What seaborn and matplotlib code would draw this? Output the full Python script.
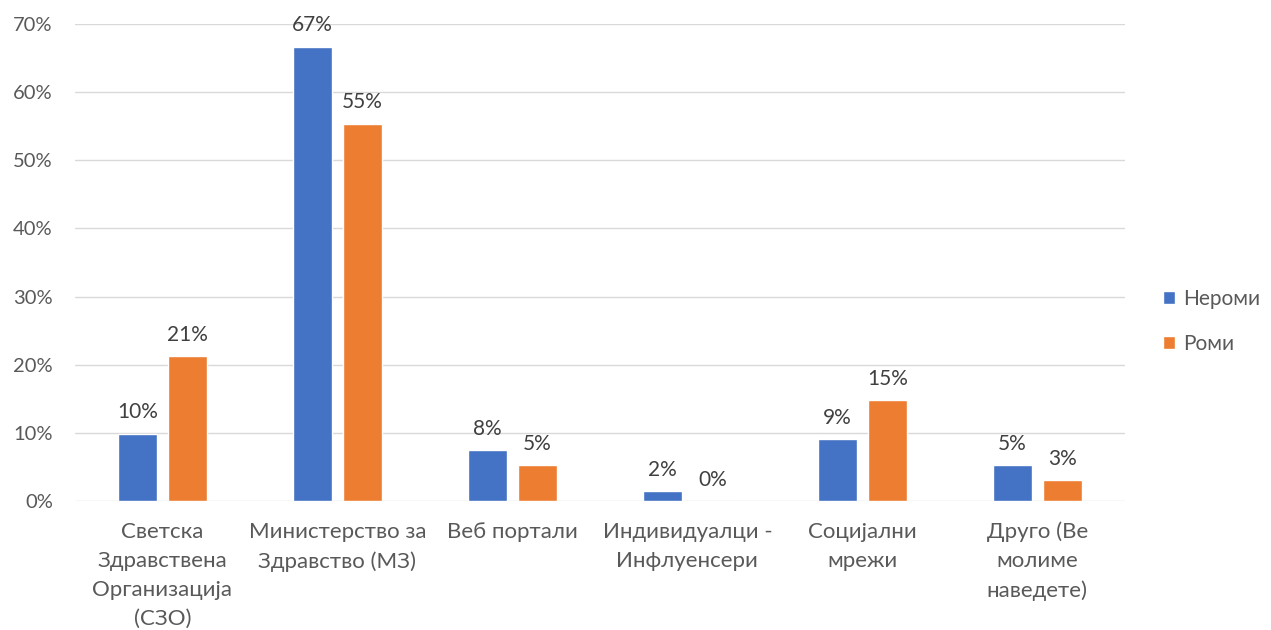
import numpy as np
import pandas as pd
import matplotlib
matplotlib.use('Agg')
import matplotlib.pyplot as plt
import seaborn as sns
from matplotlib.ticker import PercentFormatter
from matplotlib.patches import Patch

categories = ['Светска\nЗдравствена\nОрганизација\n(СЗО)', 'Министерство за\nЗдравство (МЗ)',
              'Веб портали', 'Индивидуалци -\nИнфлуенсери', 'Социјални\nмрежи',
              'Друго (Ве\nмолиме\nнаведете)']
neromi = [9.9, 66.7, 7.5, 1.5, 9.1, 5.3]
romi = [21.3, 55.4, 5.3, 0.0, 14.8, 3.1]
series = ['Нероми', 'Роми']
colors = ['#4472C4', '#ED7D31']

df = pd.DataFrame({
    'cat': categories * 2,
    'val': neromi + romi,
    'grp': [series[0]] * len(categories) + [series[1]] * len(categories),
})

sns.set_style('white')
plt.rcParams['font.family'] = ['Lato', 'DejaVu Sans']

fig = plt.figure(figsize=(12.71, 6.3), dpi=100)
ax = fig.add_axes([0.059, 0.2048, 0.826, 0.757])

sns.barplot(data=df, x='cat', y='val', hue='grp', palette=colors, ax=ax,
            width=0.571, gap=0.22, legend=False, saturation=1)

ax.set_ylim(0, 70)
ax.set_xlim(-0.5, 5.5)
ax.yaxis.set_major_formatter(PercentFormatter(decimals=0))
ax.set_yticks(np.arange(0, 71, 10))
ax.grid(axis='y', color='#D9D9D9', linewidth=1)
ax.set_axisbelow(True)
for s in ax.spines.values():
    s.set_visible(False)
ax.tick_params(axis='both', length=0, labelcolor='#595959')
ax.tick_params(axis='x', pad=15, labelsize=16)
ax.tick_params(axis='y', pad=16, labelsize=14.5)
for t in ax.get_xticklabels():
    t.set_linespacing(1.56)
ax.set_xlabel('')
ax.set_ylabel('')

for cont in ax.containers:
    labels = [f'{v:.0f}%' for v in cont.datavalues]
    ax.bar_label(cont, labels=labels, padding=8, fontsize=15, color='#404040')

handles = [Patch(facecolor=c, label=s) for c, s in zip(colors, series)]
fig.legend(handles=handles, loc='center left', bbox_to_anchor=(0.9, 0.49),
           frameon=False, fontsize=15, labelcolor='#595959', handlelength=0.6,
           handleheight=0.6, handletextpad=0.4, labelspacing=1.2)

fig.savefig('out.png', dpi=100)
